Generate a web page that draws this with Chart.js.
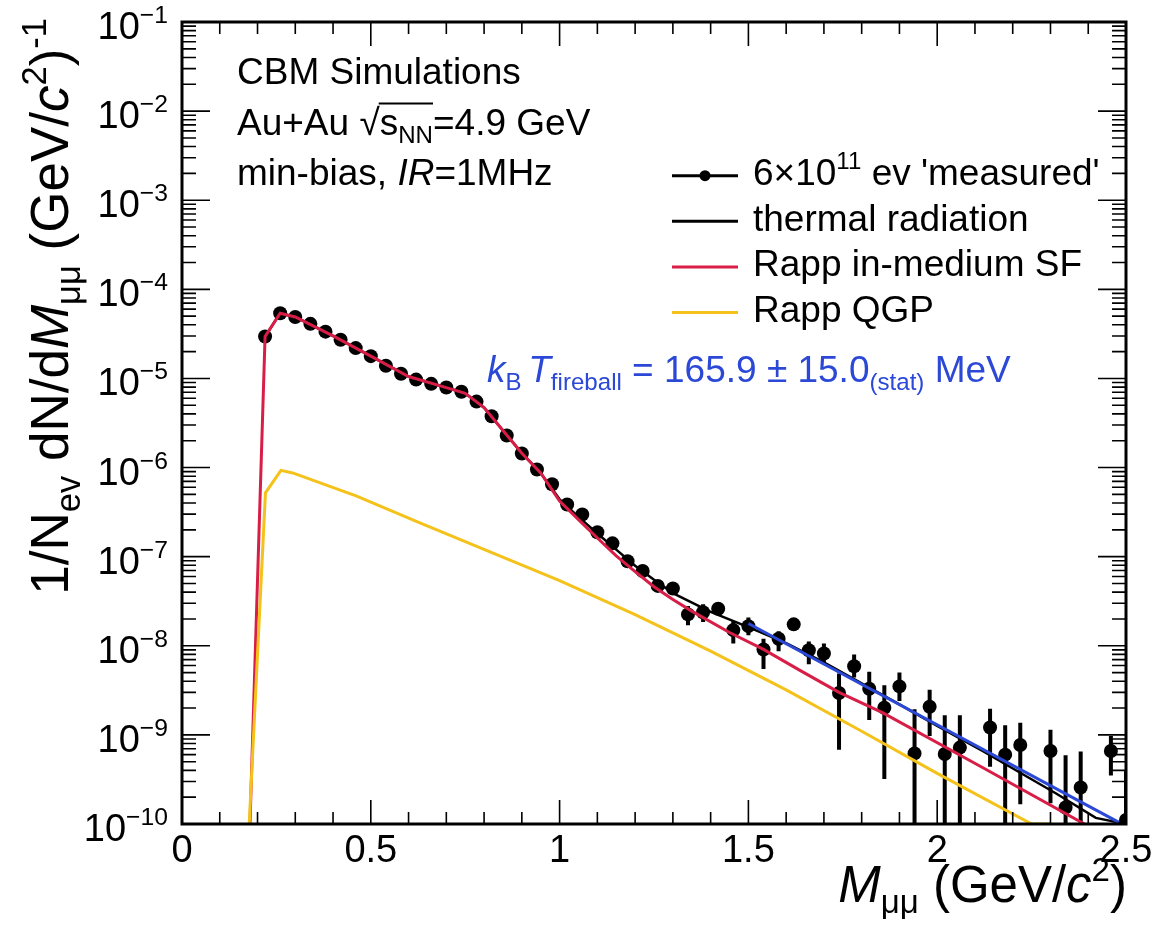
<!DOCTYPE html>
<html>
<head>
<meta charset="utf-8">
<title>CBM dimuon invariant mass spectrum</title>
<script src="https://cdn.jsdelivr.net/npm/chart.js@4.4.1/dist/chart.umd.min.js"></script>
<style>
  html, body { margin: 0; padding: 0; background: #fff; }
  canvas { display: block; }
</style>
</head>
<body>
<canvas id="chart" width="1156" height="926"></canvas>
<script>
// 'measured' spectrum: bin centres (GeV/c^2), yield, and stat. error band (null = bar hidden by marker)
const mass = [0.22, 0.26, 0.30, 0.34, 0.38, 0.42, 0.46, 0.50, 0.54, 0.58, 0.62, 0.66, 0.70, 0.74,
  0.78, 0.82, 0.86, 0.90, 0.94, 0.98, 1.02, 1.06, 1.10, 1.14, 1.18, 1.22, 1.26, 1.30,
  1.34, 1.38, 1.42, 1.46, 1.50, 1.54, 1.58, 1.62, 1.66, 1.70, 1.74, 1.78, 1.82, 1.86, 1.90,
  1.94, 1.98, 2.02, 2.06, 2.14, 2.18, 2.22, 2.30, 2.34, 2.38, 2.46, 2.50];
const measured = [2.96e-5, 5.4e-5, 4.9e-5, 4.1e-5, 3.35e-5, 2.72e-5, 2.19e-5, 1.78e-5, 1.39e-5, 1.13e-5,
  9.7e-6, 8.7e-6, 7.9e-6, 7.1e-6, 5.5e-6, 3.76e-6, 2.29e-6, 1.44e-6, 9.5e-7, 6.5e-7,
  3.85e-7, 2.97e-7, 1.88e-7, 1.41e-7, 8.9e-8, 6.9e-8, 4.7e-8, 4.4e-8,
  2.25e-8, 2.38e-8, 2.6e-8, 1.5e-8, 1.66e-8, 9.1e-9, 1.2e-8, 1.74e-8, 8.9e-9, 8.2e-9, 2.95e-9,
  5.9e-9, 3.3e-9, 2.02e-9, 3.5e-9, 6.2e-10, 2.07e-9, 6.1e-10, 7.2e-10, 1.21e-9, 6.0e-10,
  7.7e-10, 6.6e-10, 1.53e-10, 2.57e-10, 6.6e-10, 1.11e-10];
const errLow = [null, null, null, null, null, null, null, null, null, null, null, null, null, null,
  null, null, null, null, null, null, null, null, null, null, null, null, null, null,
  1.70e-8, 1.85e-8, 2.3e-8, 1.06e-8, 1.31e-8, 5.5e-9, 8.7e-9, 1.55e-8, 6.2e-9, 6.2e-9, 6.8e-10,
  4.4e-9, 1.47e-9, 3.2e-10, 2.4e-9, 1e-11, 9.7e-10, 1e-11, 1e-11, 4.4e-10, 1e-11,
  1.67e-10, 1.71e-10, 1e-11, 1e-11, 3.5e-10, 1e-11];
const errHigh = [null, null, null, null, null, null, null, null, null, null, null, null, null, null,
  null, null, null, null, null, null, null, null, null, null, null, null, null, null,
  2.79e-8, 2.92e-8, 2.9e-8, 1.89e-8, 2.07e-8, 1.2e-8, 1.46e-8, 1.95e-8, 1.12e-8, 1.06e-8, 4.9e-9,
  8.0e-9, 5.1e-9, 3.6e-9, 5.0e-9, 1.94e-9, 3.2e-9, 1.66e-9, 1.66e-9, 1.97e-9, 1.28e-9,
  1.37e-9, 1.14e-9, 5.9e-10, 6.5e-10, 9.7e-10, 3.9e-10];

// thermal radiation (black)
const thermalMass = [0.22, 0.26, 0.30, 0.40, 0.50, 0.60, 0.70, 0.75, 0.80, 0.85, 0.90, 0.95, 1.00,
  1.05, 1.10, 1.15, 1.20, 1.25, 1.30, 1.40, 1.50, 1.60, 1.70, 1.80, 1.90, 2.00, 2.12, 2.315, 2.42, 2.50];
const thermalYield = [2.95e-5, 5.4e-5, 4.9e-5, 3.0e-5, 1.78e-5, 1.05e-5, 7.9e-6, 6.8e-6, 4.7e-6, 2.6e-6,
  1.45e-6, 8.7e-7, 4.4e-7, 2.8e-7, 1.82e-7, 1.2e-7, 7.9e-8, 5.5e-8, 3.9e-8, 2.4e-8, 1.62e-8,
  1.07e-8, 6.5e-9, 3.8e-9, 2.2e-9, 1.26e-9, 6.6e-10, 2.2e-10, 1.17e-10, 1.0e-10];

// Rapp in-medium spectral function (red)
const sfMass = [0.18, 0.22, 0.26, 0.30, 0.40, 0.50, 0.60, 0.70, 0.75, 0.80, 0.85, 0.90, 0.95, 1.00,
  1.05, 1.10, 1.15, 1.20, 1.25, 1.30, 1.35, 1.45, 1.54, 1.64, 1.74, 1.855, 2.12, 2.39];
const sfYield = [1e-10, 2.95e-5, 5.4e-5, 4.9e-5, 3.0e-5, 1.78e-5, 1.05e-5, 7.9e-6, 6.8e-6, 4.7e-6, 2.6e-6,
  1.45e-6, 8.7e-7, 4.2e-7, 2.6e-7, 1.62e-7, 1.02e-7, 6.8e-8, 4.6e-8, 3.3e-8, 2.45e-8, 1.41e-8,
  9.1e-9, 5.2e-9, 3.0e-9, 1.78e-9, 4.3e-10, 1e-10];

// Rapp QGP (yellow)
const qgpMass = [0.178, 0.221, 0.262, 0.293, 0.461, 0.63, 1.00, 1.20, 1.40, 1.60, 1.80, 2.00, 2.25, 2.30];
const qgpYield = [1e-10, 5.2e-7, 9.3e-7, 8.7e-7, 4.8e-7, 2.4e-7, 5.4e-8, 2.24e-8, 8.7e-9, 3.2e-9,
  1.1e-9, 3.7e-10, 1e-10, 1e-10];

// exponential fit over 1.5 - 2.5 GeV/c^2 (blue)
const fitMass = [1.50, 2.48];
const fitYield = [1.78e-8, 1.05e-10];

// axis tick labels
const xTickValues = [0, 0.5, 1, 1.5, 2, 2.5];
const xTickLabels = ['0', '0.5', '1', '1.5', '2', '2.5'];
const yDecades = [-10, -9, -8, -7, -6, -5, -4, -3, -2, -1];

const RED = '#d81e47';
const YELLOW = '#f4c21b';
const BLUE = '#2b48d6';
const FONT = '"Liberation Sans", Arial, Helvetica, sans-serif';

function xy(xs, ys) {
  return xs.map((x, i) => ({ x: x, y: ys[i] }));
}

// vertical error bars as separate segments (null breaks the line)
const errorSegments = [];
mass.forEach((m, i) => {
  if (errLow[i] === null) return;
  errorSegments.push({ x: m, y: errLow[i] }, { x: m, y: errHigh[i] }, { x: m, y: null });
});

// small rich-text helper: sub/superscripts, italics, sqrt bar
function fontFor(p, size) {
  const s = (p.sub || p.sup) ? size * 0.65 : size;
  return (p.it ? 'italic ' : '') + s.toFixed(1) + 'px ' + FONT;
}
function richWidth(c, parts, size) {
  let w = 0;
  parts.forEach(p => { c.font = fontFor(p, size); w += c.measureText(p.t).width; });
  return w;
}
function drawRich(c, parts, x, y, size, color) {
  c.fillStyle = color;
  c.textAlign = 'left';
  c.textBaseline = 'alphabetic';
  let barStart = null, barEnd = null;
  parts.forEach(p => {
    c.font = fontFor(p, size);
    const dy = p.sub ? size * 0.22 : p.sup ? -size * 0.42 : 0;
    c.fillText(p.t, x, y + dy);
    const w = c.measureText(p.t).width;
    if (p.bar) { if (barStart === null) barStart = x; barEnd = x + w; }
    x += w;
  });
  if (barStart !== null) {
    c.strokeStyle = color;
    c.lineWidth = 2;
    c.beginPath();
    c.moveTo(barStart - 1, y - size * 0.84);
    c.lineTo(barEnd, y - size * 0.84);
    c.stroke();
  }
  return x;
}

const infoLines = [
  [{ t: 'CBM Simulations' }],
  [{ t: 'Au+Au ' }, { t: '√' }, { t: 's', bar: true }, { t: 'NN', sub: true, bar: true }, { t: '=4.9 GeV' }],
  [{ t: 'min-bias, ' }, { t: 'IR', it: true }, { t: '=1MHz' }]
];
const fitLabel = [{ t: 'k', it: true }, { t: 'B ', sub: true }, { t: 'T', it: true }, { t: 'fireball', sub: true },
  { t: ' = 165.9 ± 15.0' }, { t: '(stat)', sub: true }, { t: ' MeV' }];
const yTitle = [{ t: '1/N' }, { t: 'ev', sub: true }, { t: ' dN/d' }, { t: 'M', it: true }, { t: 'μμ', sub: true },
  { t: ' (GeV/' }, { t: 'c', it: true }, { t: '2', sup: true }, { t: ')' }, { t: '-1', sup: true }];
const xTitle = [{ t: 'M', it: true }, { t: 'μμ', sub: true }, { t: ' (GeV/' }, { t: 'c', it: true },
  { t: '2', sup: true }, { t: ')' }];
const legendRows = [
  { ds: 1, marker: true, parts: [{ t: '6×10' }, { t: '11', sup: true }, { t: " ev 'measured'" }] },
  { ds: 2, parts: [{ t: 'thermal radiation' }] },
  { ds: 3, parts: [{ t: 'Rapp in-medium SF' }] },
  { ds: 4, parts: [{ t: 'Rapp QGP' }] }
];

// ROOT-like frame, inward ticks, labels, titles and legend
const rootFrame = {
  id: 'rootFrame',
  beforeDraw(chart) {
    const c = chart.ctx;
    c.save();
    c.fillStyle = '#fff';
    c.fillRect(0, 0, chart.width, chart.height);
    c.restore();
  },
  afterDatasetsDraw(chart) {
    const c = chart.ctx;
    const a = chart.chartArea;
    const xs = chart.scales.x, ys = chart.scales.y;
    c.save();
    c.strokeStyle = '#000';
    c.lineWidth = 1.6;
    c.beginPath();
    for (let k = 0; k <= 25; k++) {
      const px = xs.getPixelForValue(k / 10);
      const len = k % 5 === 0 ? 24 : 12;
      c.moveTo(px, a.bottom); c.lineTo(px, a.bottom - len);
      c.moveTo(px, a.top); c.lineTo(px, a.top + len);
    }
    yDecades.forEach(d => {
      for (let m = 1; m <= 9; m++) {
        const v = m * Math.pow(10, d);
        if (v > 0.1 + 1e-12) continue;
        const py = ys.getPixelForValue(v);
        const len = m === 1 ? 28 : 14;
        c.moveTo(a.left, py); c.lineTo(a.left + len, py);
        c.moveTo(a.right, py); c.lineTo(a.right - len, py);
      }
    });
    c.stroke();
    c.lineWidth = 3;
    c.strokeRect(a.left, a.top, a.right - a.left, a.bottom - a.top);

    // tick labels
    xTickValues.forEach((v, i) => {
      c.font = '38px ' + FONT;
      c.fillStyle = '#000';
      c.textAlign = 'center';
      c.textBaseline = 'alphabetic';
      c.fillText(xTickLabels[i], xs.getPixelForValue(v), 862);
    });
    yDecades.forEach(d => {
      const parts = [{ t: '10' }, { t: '−' + Math.abs(d), sup: true }];
      const w = richWidth(c, parts, 38);
      drawRich(c, parts, 168 - w, ys.getPixelForValue(Math.pow(10, d)) + 17, 38, '#000');
    });

    // axis titles
    drawRich(c, xTitle, 1127 - richWidth(c, xTitle, 51), 902, 51, '#000');
    const wy = richWidth(c, yTitle, 53);
    c.save();
    c.translate(68, 18 + wy);
    c.rotate(-Math.PI / 2);
    drawRich(c, yTitle, 0, 0, 53, '#000');
    c.restore();

    // annotations
    infoLines.forEach((line, i) => drawRich(c, line, 237, 84 + i * 50.5, 37, '#000'));
    drawRich(c, fitLabel, 487, 382, 37, BLUE);

    // legend
    legendRows.forEach((row, i) => {
      const base = 185 + i * 45.6;
      const ly = base - 9.3;
      const ds = chart.data.datasets[row.ds];
      c.strokeStyle = row.marker ? '#000' : ds.borderColor;
      c.lineWidth = 3;
      c.beginPath();
      c.moveTo(672, ly); c.lineTo(738, ly);
      c.stroke();
      if (row.marker) {
        c.fillStyle = '#000';
        c.beginPath();
        c.arc(705, ly, 5.5, 0, Math.PI * 2);
        c.fill();
      }
      drawRich(c, row.parts, 753, base, 37, '#000');
    });
    c.restore();
  }
};

const ctx = document.getElementById('chart').getContext('2d');
const chart = new Chart(ctx, {
  type: 'line',
  data: {
    datasets: [
      { label: 'stat. errors', data: errorSegments, borderColor: '#000', borderWidth: 4,
        pointRadius: 0, spanGaps: false, clip: 0, order: 6 },
      { label: "6×10^11 ev 'measured'", data: xy(mass, measured), showLine: false,
        pointRadius: 7, pointBackgroundColor: '#000', pointBorderWidth: 0, order: 5 },
      { label: 'thermal radiation', data: xy(thermalMass, thermalYield), borderColor: '#000',
        borderWidth: 2.5, pointRadius: 0, order: 4 },
      { label: 'Rapp in-medium SF', data: xy(sfMass, sfYield), borderColor: RED,
        borderWidth: 3, pointRadius: 0, order: 3 },
      { label: 'Rapp QGP', data: xy(qgpMass, qgpYield), borderColor: YELLOW,
        borderWidth: 3, pointRadius: 0, order: 2 },
      { label: 'fit', data: xy(fitMass, fitYield), borderColor: BLUE,
        borderWidth: 3, pointRadius: 0, order: 1 }
    ]
  },
  options: {
    responsive: false,
    animation: false,
    devicePixelRatio: 1,
    events: [],
    layout: { padding: { top: 22, right: 30, left: 0, bottom: 0 } },
    plugins: { legend: { display: false }, tooltip: { enabled: false } },
    scales: {
      x: {
        type: 'linear', min: 0, max: 2.5,
        grid: { display: false }, border: { display: false },
        ticks: { display: false },
        afterFit(s) { s.height = 102; }
      },
      y: {
        type: 'logarithmic', min: 1e-10, max: 0.1,
        grid: { display: false }, border: { display: false },
        ticks: { display: false },
        afterFit(s) { s.width = 182; }
      }
    }
  },
  plugins: [rootFrame]
});
</script>
</body>
</html>
